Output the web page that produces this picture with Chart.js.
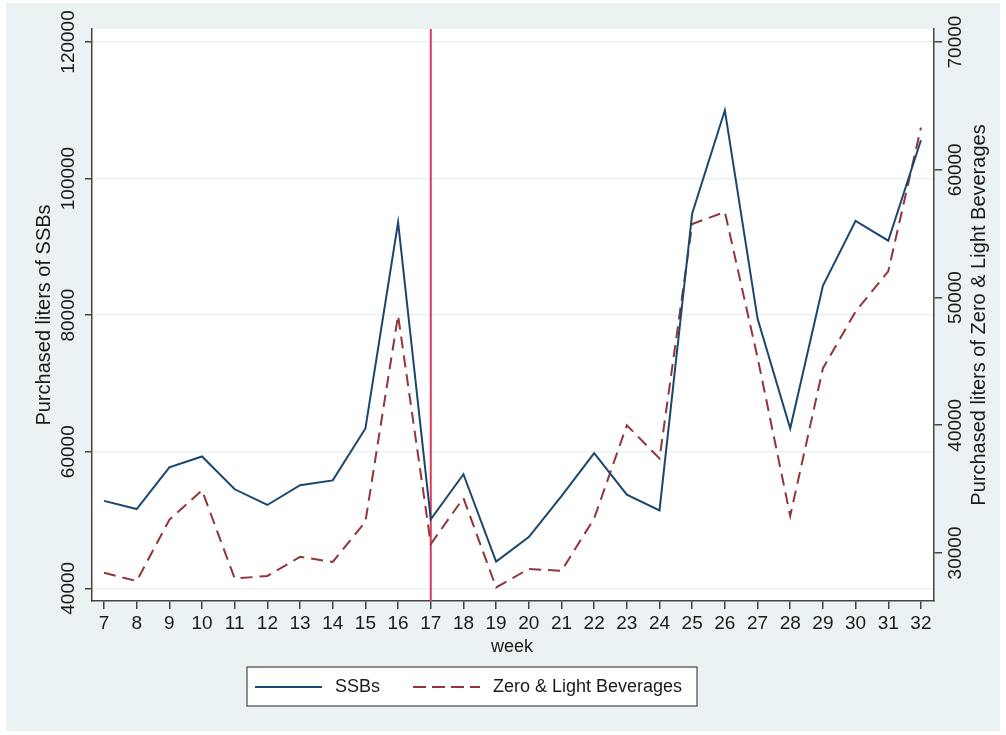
<!DOCTYPE html>
<html>
<head>
<meta charset="utf-8">
<script src="https://cdn.jsdelivr.net/npm/chart.js@4.4.1/dist/chart.umd.min.js"></script>
<style>
  html, body { margin: 0; padding: 0; background: #ffffff; }
  #wrap { width: 1006px; height: 735px; }
</style>
</head>
<body>
<div id="wrap"><canvas id="salesChart" width="1006" height="735"></canvas></div>
<script>
const weeks = [7, 8, 9, 10, 11, 12, 13, 14, 15, 16, 17, 18, 19, 20, 21, 22, 23, 24, 25, 26, 27, 28, 29, 30, 31, 32];
const ssbLiters = [52800, 51600, 57700, 59300, 54500, 52200, 55100, 55800, 63400, 93600, 50100, 56700, 43900, 47500, 53500, 59800,
  53700, 51400, 94900, 110000, 79500, 63400, 84300, 93800, 90900, 105600];
const zeroLightLiters = [28450, 27800, 32600, 34900, 28000, 28200, 29700, 29300, 32450, 48600, 30700, 34300, 27300, 28750, 28600, 32700,
  40000, 37400, 55750, 56700, 45300, 32900, 44450, 48900, 52050, 63300];
const leftTicks = [40000, 60000, 80000, 100000, 120000];
const rightTicks = [30000, 40000, 50000, 60000, 70000];
const interventionWeek = 17;

const FONT = "'Liberation Sans', Arial, sans-serif";
const navy = "#1a476f";
const maroon = "#90353b";

const toPoints = (vals) => weeks.map((w, i) => ({ x: w, y: vals[i] }));

const decor = {
  id: "decor",
  beforeDraw(chart) {
    const { ctx, chartArea: a } = chart;
    ctx.save();
    ctx.fillStyle = "#eaf2f3";
    ctx.fillRect(6, 3, 994, 728);
    ctx.fillStyle = "#ffffff";
    ctx.fillRect(a.left, a.top, a.right - a.left, a.bottom - a.top);
    ctx.restore();
  },
  beforeDatasetsDraw(chart) {
    const { ctx, chartArea: a, scales } = chart;
    const x = scales.x.getPixelForValue(interventionWeek);
    ctx.save();
    ctx.strokeStyle = "#d93a5e";
    ctx.lineWidth = 2;
    ctx.beginPath();
    ctx.moveTo(x, a.top);
    ctx.lineTo(x, a.bottom);
    ctx.stroke();
    ctx.restore();
  },
  afterDraw(chart) {
    const { ctx, scales } = chart;
    ctx.save();
    ctx.fillStyle = "#1a1a1a";
    ctx.textAlign = "center";
    ctx.textBaseline = "middle";

    // rotated tick labels
    ctx.font = "19px " + FONT;
    leftTicks.forEach(v => {
      ctx.save();
      ctx.translate(69, scales.y.getPixelForValue(v));
      ctx.rotate(-Math.PI / 2);
      ctx.fillText(String(v), 0, 0);
      ctx.restore();
    });
    rightTicks.forEach(v => {
      ctx.save();
      ctx.translate(956, scales.y1.getPixelForValue(v));
      ctx.rotate(-Math.PI / 2);
      ctx.fillText(String(v), 0, 0);
      ctx.restore();
    });

    // axis titles
    ctx.font = "20px " + FONT;
    ctx.save();
    ctx.translate(44, 315);
    ctx.rotate(-Math.PI / 2);
    ctx.fillText("Purchased liters of SSBs", 0, 0);
    ctx.restore();
    ctx.save();
    ctx.translate(979, 315);
    ctx.rotate(-Math.PI / 2);
    ctx.fillText("Purchased liters of Zero & Light Beverages", 0, 0);
    ctx.restore();
    ctx.font = "18px " + FONT;
    ctx.fillText("week", 512, 647);

    // legend
    ctx.fillStyle = "#ffffff";
    ctx.fillRect(247, 667, 450, 39);
    ctx.strokeStyle = "#555555";
    ctx.lineWidth = 1.3;
    ctx.strokeRect(247, 667, 450, 39);
    ctx.lineWidth = 2;
    ctx.strokeStyle = navy;
    ctx.beginPath();
    ctx.moveTo(255, 687);
    ctx.lineTo(322, 687);
    ctx.stroke();
    ctx.strokeStyle = maroon;
    ctx.setLineDash([13, 6]);
    ctx.beginPath();
    ctx.moveTo(413, 687);
    ctx.lineTo(480, 687);
    ctx.stroke();
    ctx.setLineDash([]);
    ctx.fillStyle = "#1a1a1a";
    ctx.textAlign = "left";
    ctx.font = "18px " + FONT;
    ctx.fillText("SSBs", 335, 687);
    ctx.fillText("Zero & Light Beverages", 493, 687);
    ctx.restore();
  }
};

new Chart(document.getElementById("salesChart"), {
  type: "line",
  data: {
    datasets: [
      {
        label: "SSBs",
        data: toPoints(ssbLiters),
        borderColor: navy,
        borderWidth: 2,
        pointRadius: 0,
        tension: 0,
        yAxisID: "y"
      },
      {
        label: "Zero & Light Beverages",
        data: toPoints(zeroLightLiters),
        borderColor: maroon,
        borderWidth: 2,
        borderDash: [12, 7],
        pointRadius: 0,
        tension: 0,
        yAxisID: "y1"
      }
    ]
  },
  options: {
    responsive: false,
    animation: false,
    layout: { padding: { top: 29, left: 0, right: 0, bottom: 0 } },
    plugins: {
      legend: { display: false },
      tooltip: { enabled: false }
    },
    scales: {
      x: {
        type: "linear",
        min: 6.633,
        max: 32.4,
        afterBuildTicks: (s) => { s.ticks = weeks.map(v => ({ value: v })); },
        afterFit: (s) => { s.height = 134; },
        ticks: { color: "#1a1a1a", font: { family: FONT, size: 19 }, padding: 3, maxRotation: 0, autoSkip: false },
        grid: { drawOnChartArea: false, tickLength: 8, tickColor: "#444", lineWidth: 1.5 },
        border: { color: "#444", width: 1.5 }
      },
      y: {
        type: "linear",
        position: "left",
        min: 38140,
        max: 121900,
        afterBuildTicks: (s) => { s.ticks = leftTicks.map(v => ({ value: v })); },
        afterFit: (s) => { s.width = 92; },
        ticks: { display: false },
        grid: { color: "#e9f1f2", lineWidth: 1.5, tickLength: 7, tickColor: "#444" },
        border: { color: "#444", width: 1.5 }
      },
      y1: {
        type: "linear",
        position: "right",
        min: 26240,
        max: 71020,
        afterBuildTicks: (s) => { s.ticks = rightTicks.map(v => ({ value: v })); },
        afterFit: (s) => { s.width = 72; },
        ticks: { display: false },
        grid: { drawOnChartArea: false, tickLength: 8, tickColor: "#444", lineWidth: 1.5 },
        border: { color: "#444", width: 1.5 }
      }
    }
  },
  plugins: [decor]
});
</script>
</body>
</html>
